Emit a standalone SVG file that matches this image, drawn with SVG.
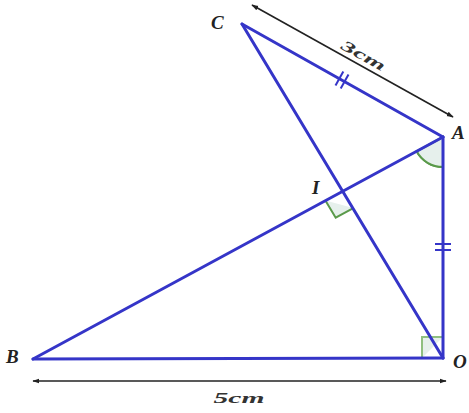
<svg xmlns="http://www.w3.org/2000/svg" width="469" height="413" viewBox="0 0 469 413">
<style>
.seg{stroke:#3535c8;stroke-width:3;fill:none;stroke-linecap:round}
.tick{stroke:#3535c8;stroke-width:2;fill:none}
.ang{stroke:#5a9a4a;stroke-width:2;fill:#e6f0ec}
.dim{stroke:#222;stroke-width:1.6;fill:none;marker-start:url(#ah);marker-end:url(#ah)}
.lbl{font-family:"Liberation Serif",serif;font-style:italic;font-weight:bold;font-size:19px;fill:#222}
.dlbl{font-family:"Liberation Serif",serif;font-style:italic;font-weight:bold;font-size:15px;fill:#333}
</style>
<defs>
<marker id="ah" viewBox="0 0 10 10" refX="9" refY="5" markerWidth="7" markerHeight="7" orient="auto-start-reverse" markerUnits="userSpaceOnUse">
<path d="M0,1.5 L10,5 L0,8.5 Z" fill="#222"/>
</marker>
</defs>
<rect width="469" height="413" fill="#fff"/>
<g id="angles">
<path class="ang" d="M443,137 L416.6,151.3 A30,30 0 0,0 443,167 Z" stroke="none"/>
<path class="ang" d="M416.6,151.3 A30,30 0 0,0 443,167" fill="none"/>
<path class="ang" d="M325.4,200.5 L335.7,217.7 L353.3,208.1"/>
<path class="ang" d="M422,358 L422,337 L443,337" style="stroke:#8fbf80"/>
</g>
<g id="connectors">
<line class="seg" x1="242" y1="24" x2="443" y2="137"/>
<line class="seg" x1="242" y1="24" x2="443" y2="358"/>
<line class="seg" x1="33" y1="359" x2="443" y2="137"/>
<line class="seg" x1="33" y1="359" x2="443" y2="358"/>
<line class="seg" x1="443" y1="137" x2="443" y2="358"/>
<line class="tick" x1="343.3" y1="71.5" x2="335.5" y2="85.5"/>
<line class="tick" x1="348.5" y1="74.5" x2="340.7" y2="88.5"/>
<line class="tick" x1="435" y1="244" x2="451" y2="244"/>
<line class="tick" x1="435" y1="250" x2="451" y2="250"/>
<line class="dim" x1="252" y1="5" x2="453" y2="117"/>
<line class="dim" x1="33" y1="381" x2="446" y2="381"/>
</g>
<g id="C"><text class="lbl" x="211" y="29">C</text></g>
<g id="A"><text class="lbl" x="452" y="139">A</text></g>
<g id="I"><text class="lbl" x="312" y="194">I</text></g>
<g id="B"><text class="lbl" x="6" y="363">B</text></g>
<g id="O"><text class="lbl" x="453" y="368">O</text></g>
<g id="dim-labels">
<text class="dlbl" x="0" y="0" text-anchor="middle" textLength="48" lengthAdjust="spacingAndGlyphs" transform="translate(361,60) rotate(29)">3cm</text>
<text class="dlbl" x="239" y="403" text-anchor="middle" textLength="51" lengthAdjust="spacingAndGlyphs">5cm</text>
</g>
</svg>
